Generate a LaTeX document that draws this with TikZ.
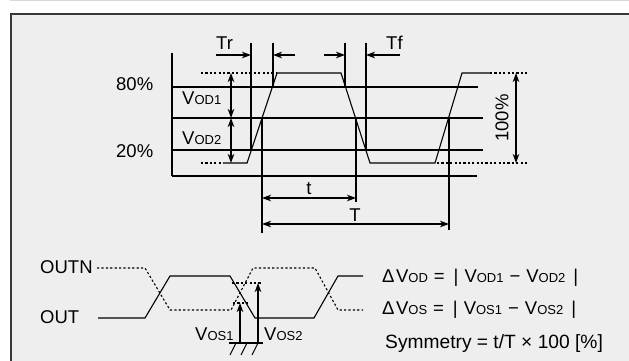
\documentclass[tikz,border=0pt]{standalone}
\usepackage{fontspec}
\setmainfont{Liberation Sans}
\usetikzlibrary{arrows.meta}
\newcommand\sbs[1]{{\fontsize{13}{14}\selectfont #1}}
\begin{document}
\begin{tikzpicture}[x=1pt,y=-1pt, font=\fontsize{18.5}{20}\selectfont,
 wire/.style={line width=1.1pt, line join=miter},
 dots/.style={line width=1.1pt, dash pattern=on 2.2pt off 2.2pt},
 dim/.style={line width=1.1pt, -{Stealth[length=9pt,width=6.5pt,inset=2.5pt]}},
 dimb/.style={line width=1.1pt, {Stealth[length=9pt,width=6.5pt,inset=2.5pt]}-{Stealth[length=9pt,width=6.5pt,inset=2.5pt]}},
 lbl/.style={inner sep=0pt, anchor=base west}]
\useasboundingbox (0,0) rectangle (629,361);
\fill[white] (0,0) rectangle (629,361);
\draw[color=black!15, line width=1.5] (10,0.75)--(629,0.75);
\filldraw[fill=black!6.5, draw=black!78, line width=2] (11,14) rectangle (650,380);

% ---------- upper timing diagram ----------
\coordinate (axT) at (172,53);
\coordinate (axB) at (172,176);
\draw[wire] (axT)--(axB);
\draw[wire] (172,87)--(478,87);
\draw[wire] (172,118)--(483,118);
\draw[wire] (172,150)--(483,150);
\draw[wire] (172,176)--(477,176);

\draw[dots] (201,73)--(277,73);
\draw[dots] (201,163)--(223,163);
\draw[wire] (223,163)--(247,163)--(277,73)--(341,73)--(370,163)--(435,163)--(462,73)--(490,73);
\draw[dots] (490,73)--(527,73);
\draw[dots] (437,163)--(527,163);

% Tr / Tf markers
\draw[wire] (251,43)--(251,150);
\draw[wire] (273,43)--(273,87);
\coordinate (trA) at (251,55); \coordinate (trB) at (273,55);
\draw[dim] (216,55)--(trA);
\draw[dim] (295,55)--(trB);
\node[lbl] (tr) at (216,50) {Tr};
\draw[wire] (345,43)--(345,87);
\draw[wire] (366,43)--(366,150);
\coordinate (tfA) at (345,55); \coordinate (tfB) at (366,55);
\draw[dim] (324,55)--(tfA);
\draw[dim] (400,55)--(tfB);
\node[lbl] (tf) at (386,49) {Tf};

% VOD arrows
\coordinate (vH) at (231,73); \coordinate (vM) at (231,118); \coordinate (vL) at (231,163);
\draw[dimb] (vH)--(vM);
\draw[dimb] (vM)--(vL);
\node[lbl] (vod1) at (182,104) {V\sbs{OD1}};
\node[lbl] (vod2) at (182,144) {V\sbs{OD2}};
\node[lbl] (p80) at (116,91) {80\%};
\node[lbl] (p20) at (116,157) {20\%};

% 100%
\coordinate (hT) at (516,73); \coordinate (hB) at (516,163);
\draw[dimb] (hT)--(hB);
\node[inner sep=0pt, rotate=90] (p100) at (502,118) {100\%};

% t / T
\draw[wire] (262,118)--(262,233);
\draw[wire] (356,118)--(356,202);
\draw[wire] (449,118)--(449,230);
\coordinate (tA) at (262,198); \coordinate (tB) at (356,198);
\draw[dimb] (tA)--(tB);
\node[inner sep=0pt, anchor=base] (tl) at (309,194) {t};
\coordinate (TA) at (262,224); \coordinate (TB) at (449,224);
\draw[dimb] (TA)--(TB);
\node[inner sep=0pt, anchor=base] (Tl) at (355,221) {T};

% ---------- lower diagram ----------
\node[lbl] (outn) at (40,273) {OUTN};
\node[lbl] (out) at (40,323) {OUT};
\draw[dots] (97,268)--(145,268)--(170,310)--(231,310)--(253,268)--(315,268)--(338,310)--(363,310);
\draw[wire] (98,318)--(145,318)--(170,276)--(230,276)--(255,318)--(314,318)--(338,276)--(363,276);
\draw[dots] (232,283)--(262,283);
\draw[dots] (233,303)--(248,303);

% ground
\coordinate (g1) at (240,343); \coordinate (g2) at (258,343);
\draw[wire] (229,343)--(263,343);
\foreach \x in {236,247,258} \draw[wire] (\x,343)--(\x-6,355);
\draw[dim] (g1)--(240,303);
\draw[dim] (g2)--(258,283);
\node[lbl] (vos1) at (195,340) {V\sbs{OS1}};
\node[lbl] (vos2) at (264,340) {V\sbs{OS2}};

% formulas
\node[lbl] (f1) at (382,282) {Δ\hspace{1.5pt}V\sbs{OD}\hspace{6pt}=\hspace{9pt}|\hspace{6pt}V\sbs{OD1}\hspace{6pt}−\hspace{6pt}V\sbs{OD2}\hspace{8pt}|};
\node[lbl] (f2) at (382,314) {Δ\hspace{1.5pt}V\sbs{OS}\hspace{6pt}=\hspace{9pt}|\hspace{6pt}V\sbs{OS1}\hspace{6pt}−\hspace{6pt}V\sbs{OS2}\hspace{8pt}|};
\node[lbl, font=\fontsize{19.2}{21}\selectfont] (f3) at (385,348) {Symmetry = t/T × 100 [\%]};
\end{tikzpicture}
\end{document}
